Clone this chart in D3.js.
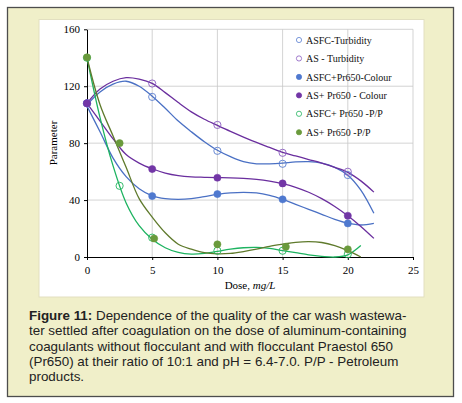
<!DOCTYPE html>
<html>
<head>
<meta charset="utf-8">
<script src="https://cdn.jsdelivr.net/npm/d3@7"></script>
<style>
	body { margin: 0; background: #fff; }
	svg { display: block; }
</style>
</head>
<body>
<svg id="chart" width="462" height="403"></svg>
<script>
// marker data
var asfcTurbidity = [[0, 108], [5, 112.5], [10, 74.6], [15, 65.5], [20, 57.6]];
var asTurbidity = [[0, 108], [5, 121.9], [10, 92.8], [15, 73.2], [20, 59.9]];
var asfcColour = [[0, 108], [5, 42.8], [10, 44.2], [15, 40.5], [20, 23.6]];
var asColour = [[0, 108], [5, 61.8], [10, 55.7], [15, 51.7], [20, 29]];
var asfcPP = [[0, 140], [2.5, 50], [5, 13.6], [10, 4.4], [15, 4.4], [20, 2]];
var asPP = [[0, 140.3], [2.5, 80], [5.15, 13], [10, 8.9], [15.25, 7.2], [20, 5.4]];

// trend lines, sampled off the figure at each dose unit
var trendX = [0, 1, 2, 3, 4, 5, 6, 7, 8, 9, 10, 11, 12, 13, 14, 15, 16, 17, 18, 19, 20, 21, 22];
var asfcTurbidityTrend = [107, 116, 121.5, 123.5, 120, 113, 104.5, 95.5, 88, 81, 75, 70.5, 67, 65.5, 65.5, 66, 66.8, 67, 66, 63, 57.5, 47, 30.7];
var asTurbidityTrend = [108, 118, 123.5, 126, 125, 122, 115.5, 108.5, 102, 96.8, 92.5, 88.3, 84.3, 80.5, 77, 73.5, 71, 68.5, 66, 63, 59.5, 53.5, 45.6];
var asfcColourTrend = [106, 88, 69.5, 56.5, 48, 43, 41, 40.5, 41, 42.5, 44, 45, 45.4, 45, 43.3, 40.5, 37, 33.5, 30, 26.5, 23.8, 22.5, 23.6];
var asColourTrend = [108, 95.5, 83, 72, 66, 62, 59, 57.2, 56.3, 56, 55.8, 55.6, 55.2, 54.5, 53.3, 51.5, 49, 45.5, 41, 35.5, 29, 21.5, 13.1];
var ppTrendX = [0, 1, 2, 3, 4, 5, 6, 7, 8, 9, 10, 11, 12, 13, 14, 15, 16, 17, 18, 19, 20, 21];
var asfcPPTrend = [140, 98, 64, 38, 22, 12.5, 6.5, 3.2, 2, 2.5, 4, 5.5, 6.5, 6.8, 6, 4.5, 3, 1.5, 0.5, 0, 1.5, 8];
var asPPTrend = [140, 107, 85, 63, 41, 28, 17, 9, 5.5, 3, 2.2, 2.5, 3.8, 5.5, 7.5, 9, 10.3, 10.8, 10.2, 8, 4.5, 0];

var xTicks = [0, 5, 10, 15, 20, 25];
var yTicks = [0, 40, 80, 120, 160];

var legendLabels = ["ASFC-Turbidity", "AS - Turbidity", "ASFC+Pr650-Colour", "AS+ Pr650 - Colour", "ASFC+ Pr650 -P/P", "AS+ Pr650 -P/P"];

var captionLines = [
	"Dependence of the quality of the car wash wastewa-",
	"ter settled after coagulation on the dose of aluminum-containing",
	"coagulants without flocculant and with flocculant Praestol 650",
	"(Pr650) at their ratio of 10:1 and pH = 6.4-7.0. P/P - Petroleum",
	"products."
];

var series = [
	{ points: asfcTurbidity, tx: trendX, ty: asfcTurbidityTrend, line: "#4a70c4", marker: "#5b7fd0", filled: false },
	{ points: asTurbidity, tx: trendX, ty: asTurbidityTrend, line: "#6a2e9e", marker: "#8a5cc0", filled: false },
	{ points: asfcColour, tx: trendX, ty: asfcColourTrend, line: "#4a70c4", marker: "#4f79cf", filled: true },
	{ points: asColour, tx: trendX, ty: asColourTrend, line: "#6a2e9e", marker: "#7236a6", filled: true },
	{ points: asfcPP, tx: ppTrendX, ty: asfcPPTrend, line: "#1db360", marker: "#22b45e", filled: false },
	{ points: asPP, tx: ppTrendX, ty: asPPTrend, line: "#5f7a2c", marker: "#6a9a3c", filled: true }
];

var svg = d3.select("#chart");

// figure frame
svg.append("rect")
	.attr("x", 7.5).attr("y", 7.5)
	.attr("width", 446).attr("height", 389)
	.style("fill", "#f0efc9")
	.style("stroke", "#4d4d4d")
	.style("stroke-width", 1.3);

svg.append("rect")
	.attr("x", 39).attr("y", 19.5)
	.attr("width", 385).attr("height", 277.5)
	.style("fill", "#fff")
	.style("stroke", "#e2dfc0")
	.style("stroke-width", 1);

var x = d3.scaleLinear().domain([0, 25]).range([87, 413]);
var y = d3.scaleLinear().domain([0, 160]).range([257, 29.3]);

// grid
var grid = svg.append("g").attr("class", "grid");
grid.selectAll("line.gx")
	.data(xTicks.slice(1))
	.enter()
	.append("line")
	.attr("x1", function(d) { return x(d); })
	.attr("x2", function(d) { return x(d); })
	.attr("y1", y(0)).attr("y2", y(160))
	.style("stroke", "#c8c8c8")
	.style("stroke-width", 0.8);
grid.selectAll("line.gy")
	.data(yTicks.slice(1))
	.enter()
	.append("line")
	.attr("x1", x(0)).attr("x2", x(25))
	.attr("y1", function(d) { return y(d); })
	.attr("y2", function(d) { return y(d); })
	.style("stroke", "#c8c8c8")
	.style("stroke-width", 0.8);

// axes
var xAxis = d3.axisBottom(x).tickValues(xTicks).tickSize(3).tickSizeOuter(0);
var yAxis = d3.axisLeft(y).tickValues(yTicks).tickSize(3).tickSizeOuter(0);

var gx = svg.append("g")
	.attr("transform", "translate(0," + y(0) + ")")
	.call(xAxis);
var gy = svg.append("g")
	.attr("transform", "translate(" + x(0) + ",0)")
	.call(yAxis);

[gx, gy].forEach(function(g) {
	g.select(".domain").style("stroke", "#000").style("stroke-width", 1);
	g.selectAll(".tick line").style("stroke", "#000");
	g.selectAll(".tick text")
		.style("font-family", "'Liberation Serif', 'Times New Roman', serif")
		.style("font-size", "11px")
		.style("fill", "#000");
});
gx.selectAll(".tick text").attr("y", 9);
gy.selectAll(".tick text").attr("x", -7);

svg.append("text")
	.attr("x", 250).attr("y", 289)
	.attr("text-anchor", "middle")
	.style("font-family", "'Liberation Serif', 'Times New Roman', serif")
	.style("font-size", "11px")
	.text("Dose, ")
	.append("tspan")
	.style("font-style", "italic")
	.text("mg/L");

svg.append("text")
	.attr("transform", "translate(57,143) rotate(-90)")
	.attr("text-anchor", "middle")
	.style("font-family", "'Liberation Serif', 'Times New Roman', serif")
	.style("font-size", "11px")
	.text("Parameter");

// trend lines
var line = d3.line()
	.x(function(d) { return x(d[0]); })
	.y(function(d) { return y(d[1]); })
	.curve(d3.curveCatmullRom.alpha(0.5));

svg.append("g")
	.attr("class", "trends")
	.selectAll("path")
	.data(series)
	.enter()
	.append("path")
	.attr("d", function(s) {
		return line(s.tx.map(function(v, i) { return [v, s.ty[i]]; }));
	})
	.style("fill", "none")
	.style("stroke", function(s) { return s.line; })
	.style("stroke-width", 1.3);

// markers
var markers = svg.append("g").attr("class", "markers");
series.forEach(function(s) {
	markers.append("g")
		.selectAll("circle")
		.data(s.points)
		.enter()
		.append("circle")
		.attr("cx", function(d) { return x(d[0]); })
		.attr("cy", function(d) { return y(d[1]); })
		.attr("r", 3.6)
		.style("fill", s.filled ? s.marker : "none")
		.style("stroke", s.marker)
		.style("stroke-width", s.filled ? 0.5 : 0.9);
});

// legend
var legend = svg.append("g")
	.attr("class", "legend")
	.selectAll("g")
	.data(series)
	.enter()
	.append("g")
	.attr("transform", function(d, i) { return "translate(299," + (40 + i * 18.45) + ")"; });

legend.append("circle")
	.attr("r", 2.6)
	.style("fill", function(s) { return s.filled ? s.marker : "#fff"; })
	.style("stroke", function(s) { return s.marker; })
	.style("stroke-width", 0.8);

legend.append("text")
	.attr("x", 7).attr("y", 3.6)
	.style("font-family", "'Liberation Serif', 'Times New Roman', serif")
	.style("font-size", "10px")
	.style("fill", "#111")
	.text(function(d, i) { return legendLabels[i]; });

// caption
var caption = svg.append("text")
	.attr("x", 29)
	.attr("y", 320)
	.style("font-family", "'Liberation Sans', Arial, sans-serif")
	.style("font-size", "13.4px")
	.style("fill", "#222");

caption.selectAll("tspan")
	.data(captionLines)
	.enter()
	.append("tspan")
	.attr("x", 29)
	.attr("y", function(d, i) { return 320 + i * 15.25; })
	.each(function(d, i) {
		var t = d3.select(this);
		if (i === 0) {
			t.append("tspan").style("font-weight", "bold").text("Figure 11: ");
		}
		t.append("tspan").text(d);
	});
</script>
</body>
</html>
